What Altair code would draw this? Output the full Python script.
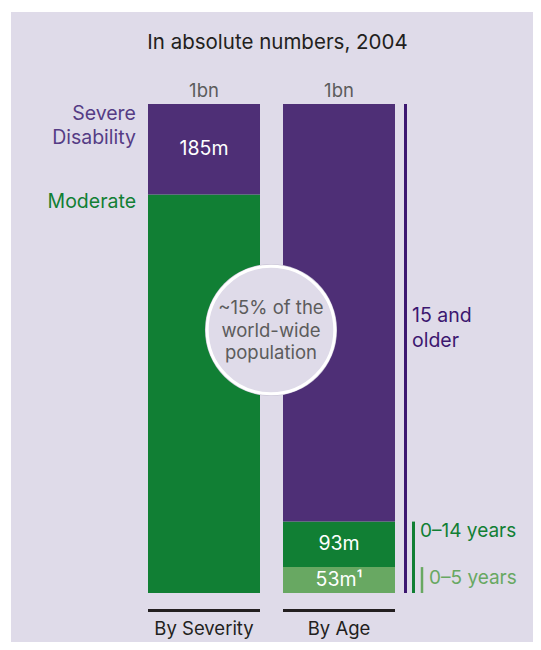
import altair as alt
import pandas as pd

# ---------------- data ----------------
groups = ["By Severity", "By Age"]
total_labels = ["1bn", "1bn"]

severity_segments = ["Moderate", "Severe Disability"]
severity_names = ["Moderate", "Severe\nDisability"]
severity_values = [815, 185]
severity_labels = ["", "185m"]

age_segments = ["0–5 years", "0–14 years", "15 and older"]
age_names = ["0–5 years", "0–14 years", "15 and\nolder"]
age_values = [53, 93, 854]
age_labels = ["53m¹", "93m", ""]

title_text = ["In absolute numbers, 2004"]
circle_text = ["~15% of the\nworld-wide\npopulation"]

# ---------------- style ----------------
FONT = "Inter"
PANEL = "#DFDBE9"
PURPLE = "#4E2F76"
DARK_PURPLE = "#3C1770"
LABEL_PURPLE = "#553C85"
GREEN = "#117F34"
LIGHT_GREEN = "#68A862"
DARK = "#231F20"
GRAY = "#5C5C5C"

rows = []
for i, (s, n, v, l) in enumerate(zip(severity_segments, severity_names, severity_values, severity_labels)):
    rows.append(dict(group=groups[0], segment=s, name=n, value=v, label=l, order=i))
for i, (s, n, v, l) in enumerate(zip(age_segments, age_names, age_values, age_labels)):
    rows.append(dict(group=groups[1], segment=s, name=n, value=v, label=l, order=i))
df = pd.DataFrame(rows)

totals = pd.DataFrame({
    "group": groups,
    "total_label": total_labels,
    "total": [sum(severity_values), sum(age_values)],
})

x_scale = alt.Scale(domain=groups, range=[140, 387], paddingInner=23 / 135, paddingOuter=0)
y_scale = alt.Scale(domain=[0, 1000], range=[585, 96], nice=False, zero=False)
color_scale = alt.Scale(
    domain=severity_segments + age_segments,
    range=[GREEN, PURPLE, LIGHT_GREEN, GREEN, PURPLE],
)

X = alt.X("group:N", scale=x_scale, axis=None)
X0 = alt.X("group:N", scale=x_scale, axis=None, bandPosition=0)

stacked = alt.Chart(df).transform_stack(
    stack="value", groupby=["group"], as_=["y0", "y1"],
    sort=[alt.SortField("order", order="ascending")],
)

one = pd.DataFrame({"a": [0]})

# background panel
panel = alt.Chart(one).mark_rect(color=PANEL).encode(
    x=alt.value(3), x2=alt.value(525), y=alt.value(4), y2=alt.value(634)
)

title = alt.Chart(pd.DataFrame({"t": title_text})).mark_text(
    font=FONT, fontSize=20.5, color=DARK, align="center", baseline="alphabetic"
).encode(x=alt.value(269.5), y=alt.value(41), text="t:N")

bars = stacked.mark_bar().encode(
    x=X,
    y=alt.Y("y0:Q", scale=y_scale, axis=None),
    y2="y1:Q",
    color=alt.Color("segment:N", scale=color_scale, legend=None),
)

seg_labels = stacked.transform_calculate(mid="(datum.y0 + datum.y1) / 2").transform_filter(
    "datum.label != ''"
).mark_text(font=FONT, fontSize=19.5, color="white", baseline="middle", align="center").encode(
    x=X, y=alt.Y("mid:Q", scale=y_scale), text="label:N"
)

top_labels = alt.Chart(totals).mark_text(
    font=FONT, fontSize=18.5, color=GRAY, baseline="alphabetic", align="center", dy=-7
).encode(x=X, y=alt.Y("total:Q", scale=y_scale), text="total_label:N")

underline = alt.Chart(totals).mark_bar(color=DARK).encode(
    x=X, y=alt.value(601), y2=alt.value(604)
)
bottom_labels = alt.Chart(totals).mark_text(
    font=FONT, fontSize=18.5, color=DARK, baseline="alphabetic", align="center"
).encode(x=X, y=alt.value(627), text="group:N")

severe_label = stacked.transform_filter("datum.segment == 'Severe Disability'").mark_text(
    font=FONT, fontSize=19.5, color=LABEL_PURPLE, align="right", baseline="alphabetic",
    lineBreak="\n", lineHeight=24, dx=-12, dy=16,
).encode(x=X0, y=alt.Y("y1:Q", scale=y_scale), text="name:N")

moderate_label = stacked.transform_filter("datum.segment == 'Moderate'").mark_text(
    font=FONT, fontSize=19.5, color=GREEN, align="right", baseline="alphabetic", dx=-12, dy=14,
).encode(x=X0, y=alt.Y("y1:Q", scale=y_scale), text="name:N")

def bracket(seg, xpx, color, width):
    return stacked.transform_filter(f"datum.segment == '{seg}'").mark_rule(
        color=color, strokeWidth=width
    ).encode(x=alt.value(xpx), y=alt.Y("y1:Q", scale=y_scale), y2=alt.datum(0))

br_old = bracket("15 and older", 397.5, DARK_PURPLE, 3)
br_14 = bracket("0–14 years", 405.5, GREEN, 3)
br_5 = bracket("0–5 years", 414, LIGHT_GREEN, 2.5)

lab_old = stacked.transform_filter("datum.segment == '15 and older'").transform_calculate(
    mid="(datum.y0 + datum.y1) / 2"
).mark_text(
    font=FONT, fontSize=19.5, color=DARK_PURPLE, align="left", baseline="alphabetic",
    lineBreak="\n", lineHeight=25, dy=9,
).encode(x=alt.value(404), y=alt.Y("mid:Q", scale=y_scale), text="name:N")

lab_14 = stacked.transform_filter("datum.segment == '0–14 years'").mark_text(
    font=FONT, fontSize=19, color=GREEN, align="left", baseline="alphabetic", dy=15,
).encode(x=alt.value(412), y=alt.Y("y1:Q", scale=y_scale), text="name:N")

lab_5 = stacked.transform_filter("datum.segment == '0–5 years'").mark_text(
    font=FONT, fontSize=19, color=LIGHT_GREEN, align="left", baseline="alphabetic", dy=17,
).encode(x=alt.value(421), y=alt.Y("y1:Q", scale=y_scale), text="name:N")

halo = alt.Chart(one).mark_point(
    shape="circle", filled=True, fill="#CDC8D9", strokeWidth=0, opacity=1, size=3.14159 * 74.5 ** 2
).encode(x=alt.value(263), y=alt.value(322))
circle = alt.Chart(one).mark_point(
    shape="circle", filled=True, fill=PANEL, stroke="white", strokeWidth=3, opacity=1,
    size=3.14159 * 72 ** 2,
).encode(x=alt.value(263), y=alt.value(322))

circle_label = alt.Chart(pd.DataFrame({"t": circle_text})).mark_text(
    font=FONT, fontSize=18.5, color=GRAY, align="center", baseline="alphabetic",
    lineBreak="\n", lineHeight=22.5,
).encode(x=alt.value(263), y=alt.value(306), text="t:N")

chart = alt.layer(
    panel, title, bars, seg_labels, top_labels, underline, bottom_labels,
    severe_label, moderate_label, br_old, br_14, br_5, lab_old, lab_14, lab_5,
    halo, circle, circle_label,
).properties(
    width=525, height=634, padding=0, background="white",
    autosize=alt.AutoSizeParams(type="none"),
).configure_view(stroke=None)

chart.save("out.html", embed_options={"renderer": "svg", "actions": False})
